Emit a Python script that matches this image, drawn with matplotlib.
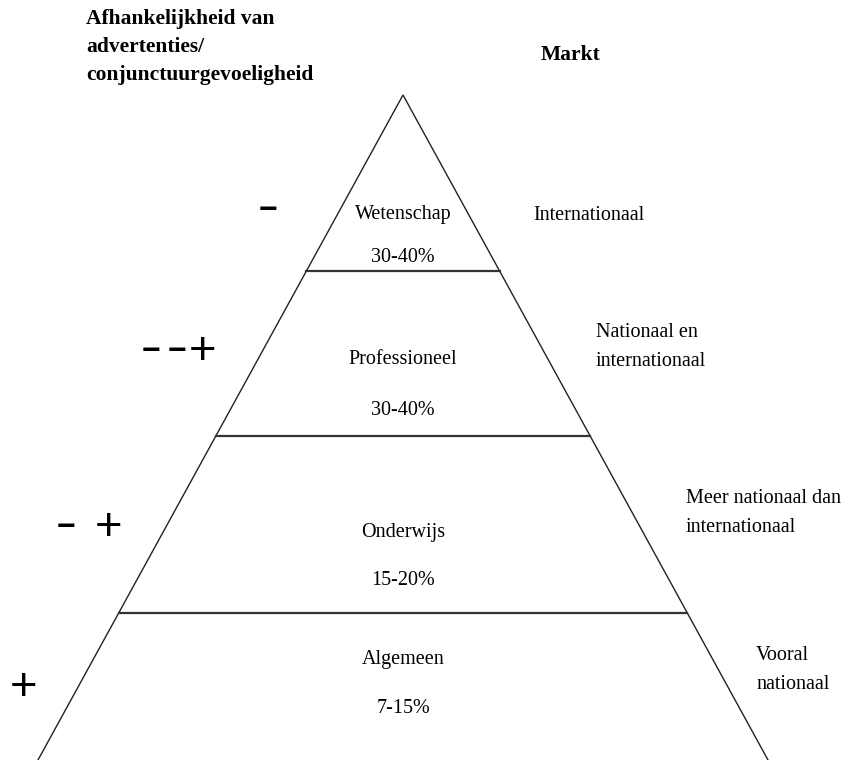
import matplotlib.pyplot as plt

# tiers from top to bottom
tiers = ['Wetenschap', 'Professioneel', 'Onderwijs', 'Algemeen']
shares = ['30-40%', '30-40%', '15-20%', '7-15%']
markets = ['Internationaal', 'Nationaal en\ninternationaal',
           'Meer nationaal dan\ninternationaal', 'Vooral\nnationaal']
signs = ['\u2212', '\u2212\u2212+', '\u2212+', '+']
# tier boundaries as fraction of the pyramid height (apex = 0, base = 1)
bounds = [0.0, 0.265, 0.513, 0.779, 1.0]

apex_x, apex_y = 403, 95
base_y, half_base = 760, 365
H = base_y - apex_y

fig = plt.figure(figsize=(8.51, 7.60), dpi=100)
ax = fig.add_axes([0, 0, 1, 1])
ax.set_xlim(0, 851)
ax.set_ylim(760, 0)
ax.axis('off')

serif = 'Liberation Serif'
fs = 14.5
dy = 2.5

# outer sides
ax.plot([apex_x - half_base, apex_x, apex_x + half_base], [base_y, apex_y, base_y],
        color='#222222', lw=1.0, solid_joinstyle='miter')

# horizontal dividers
for b in bounds[1:-1]:
    y = apex_y + b * H
    w = b * half_base
    ax.plot([apex_x - w, apex_x + w], [y, y], color='#333333', lw=1.6)

# text for each tier
name_off = [0.665, 0.52, 0.53, 0.30]
share_off = [0.91, 0.83, 0.80, 0.63]
market_x = [533, 596, 686, 756]
market_off = [0.67, 0.445, 0.42, 0.37]
sign_xs = [[268], [151, 177, 203], [66, 109], [24]]
sign_off = [0.64, 0.47, 0.50, 0.49]
for i, name in enumerate(tiers):
    top = apex_y + bounds[i] * H
    bot = apex_y + bounds[i + 1] * H
    h = bot - top
    ax.text(apex_x, top + name_off[i] * h + dy, name, ha='center', va='center',
            family=serif, fontsize=fs)
    ax.text(apex_x, top + share_off[i] * h + dy, shares[i], ha='center', va='center',
            family=serif, fontsize=fs)
    ax.text(market_x[i], top + market_off[i] * h + dy, markets[i], ha='left',
            va='center', family=serif, fontsize=fs, linespacing=1.75)
    ys = top + sign_off[i] * h + 3
    for ch, sx in zip(signs[i], sign_xs[i]):
        if ch == '+':
            ax.text(sx, ys, ch, ha='center', va='center',
                    family='Liberation Sans', fontsize=34)
        else:
            ax.text(sx, ys, ch, ha='center', va='center',
                    family='Liberation Sans', fontsize=23, fontweight='bold')

ax.text(86, 47, 'Afhankelijkheid van\nadvertenties/\nconjunctuurgevoeligheid',
        ha='left', va='center', family=serif, fontsize=15.5, fontweight='bold',
        linespacing=1.55)
ax.text(541, 55, 'Markt', ha='left', va='center', family=serif, fontsize=15.5,
        fontweight='bold')

fig.savefig('out.png', dpi=100)
